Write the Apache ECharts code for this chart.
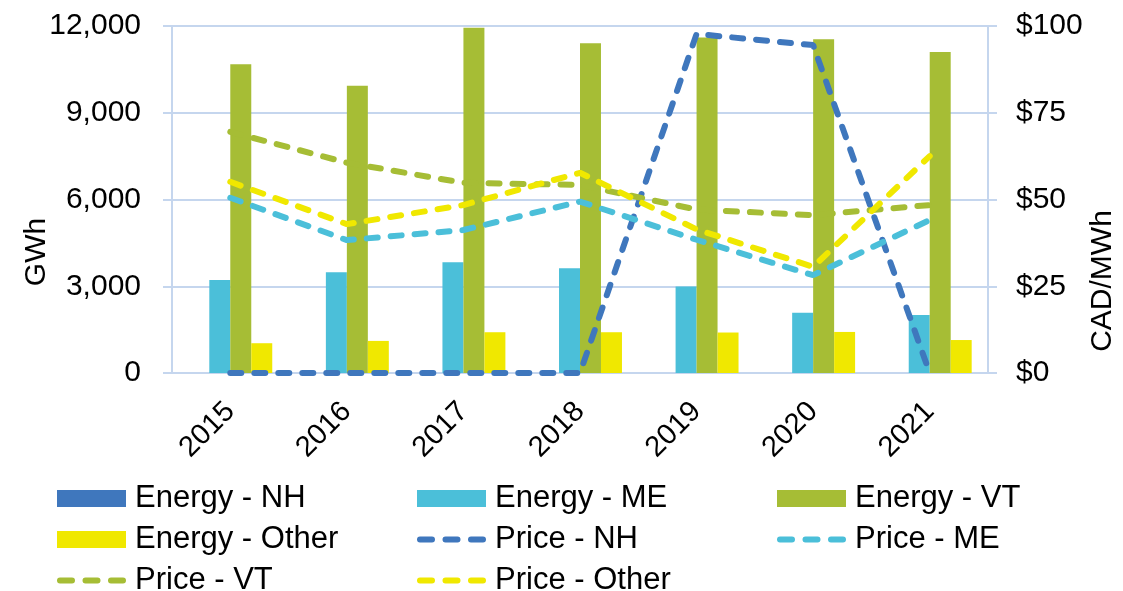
<!DOCTYPE html>
<html>
<head>
<meta charset="utf-8">
<script src="https://cdn.jsdelivr.net/npm/echarts@6/dist/echarts.min.js"></script>
<style>
  html, body { margin: 0; padding: 0; background: #fff; }
  #chart { width: 1123px; height: 591px; }
</style>
</head>
<body>
<div id="chart"></div>
<script>
// chart data
var years = ['2015', '2016', '2017', '2018', '2019', '2020', '2021']
var energyNH = [0, 0, 0, 0, 0, 0, 0]
var energyME = [3220, 3480, 3830, 3620, 2990, 2080, 2010]
var energyVT = [10680, 9930, 11940, 11400, 11600, 11540, 11100]
var energyOther = [1030, 1110, 1410, 1410, 1400, 1420, 1140]
var priceNH = [0, 0, 0, 0, 97.7, 94.5, 0]
var priceME = [50.5, 38.3, 41.2, 49.4, 38.4, 28.2, 44.1]
var priceVT = [69.5, 60.6, 54.8, 54.2, 47.1, 45.5, 48.4]
var priceOther = [55.1, 42.9, 48.4, 57.7, 41.4, 30.6, 62.5]

var FONT = 'Liberation Sans, Arial, sans-serif'
var gridColor = '#C5D6EE'
var colors = {
  NH: '#3F77BD',
  ME: '#4BBFD9',
  VT: '#A6BD35',
  Other: '#F0E800'
}

// three rounded dashes for the line legend icons (moveTo points fix the box height)
var dashIcon = 'path://M0,0M69,17' +
  'M3,5.5h12a3,3 0 0 1 0,6h-12a3,3 0 0 1 0,-6z' +
  'M28.5,5.5h12a3,3 0 0 1 0,6h-12a3,3 0 0 1 0,-6z' +
  'M54,5.5h12a3,3 0 0 1 0,6h-12a3,3 0 0 1 0,-6z'

function barSeries(name, data, color) {
  return {
    name: name,
    type: 'bar',
    data: data,
    barGap: '0%',
    barCategoryGap: '28%',
    itemStyle: { color: color },
    animation: false
  }
}

function priceSeries(name, data, color) {
  return {
    name: name,
    type: 'line',
    yAxisIndex: 1,
    data: data,
    symbol: 'none',
    itemStyle: { color: color },
    lineStyle: { color: color, width: 6, type: [11, 13], cap: 'round' },
    animation: false
  }
}

// one horizontal legend per row; fixed text width keeps the three columns aligned
function legendRow(top, names) {
  return {
    orient: 'horizontal',
    left: 57,
    top: top,
    padding: 0,
    itemWidth: 69,
    itemHeight: 17,
    itemGap: 20,
    textStyle: { fontFamily: FONT, fontSize: 31, color: '#000', lineHeight: 26, width: 262, padding: [0, 0, 0, 4] },
    data: names.map(function (n) {
      return { name: n, icon: n.indexOf('Price') === 0 ? dashIcon : 'rect' }
    })
  }
}

var chart = echarts.init(document.getElementById('chart'))
chart.setOption({
  backgroundColor: '#fff',
  grid: { left: 172, right: 135, top: 26, bottom: 218 },
  legend: [
    legendRow(483, ['Energy - NH', 'Energy - ME', 'Energy - VT']),
    legendRow(524, ['Energy - Other', 'Price - NH', 'Price - ME']),
    legendRow(565, ['Price - VT', 'Price - Other'])
  ],
  xAxis: {
    type: 'category',
    data: years,
    axisLine: { lineStyle: { color: gridColor, width: 2 } },
    axisTick: { show: false },
    axisLabel: { rotate: 45, fontFamily: FONT, fontSize: 29, color: '#000', margin: 34 }
  },
  yAxis: [
    {
      type: 'value',
      min: 0,
      max: 12000,
      interval: 3000,
      axisLine: { show: true, lineStyle: { color: gridColor, width: 2 } },
      axisTick: { show: true, length: 9, lineStyle: { color: gridColor, width: 2 } },
      splitLine: { lineStyle: { color: gridColor, width: 2 } },
      axisLabel: {
        fontFamily: FONT, fontSize: 30, color: '#000', margin: 31,
        formatter: function (v) { return String(v).replace(/\B(?=(\d{3})+(?!\d))/g, ',') }
      }
    },
    {
      type: 'value',
      min: 0,
      max: 100,
      interval: 25,
      axisLine: { show: true, lineStyle: { color: gridColor, width: 2 } },
      axisTick: { show: true, length: 9, lineStyle: { color: gridColor, width: 2 } },
      splitLine: { show: false },
      axisLabel: {
        fontFamily: FONT, fontSize: 30, color: '#000', margin: 28,
        formatter: function (v) { return '$' + v }
      }
    }
  ],
  graphic: [
    {
      type: 'text', x: 37, y: 252, rotation: Math.PI / 2,
      style: { text: 'GWh', font: '30px ' + FONT, fill: '#000', align: 'center', verticalAlign: 'middle' }
    },
    {
      type: 'text', x: 1103, y: 281, rotation: Math.PI / 2,
      style: { text: 'CAD/MWh', font: '30px ' + FONT, fill: '#000', align: 'center', verticalAlign: 'middle' }
    }
  ],
  series: [
    barSeries('Energy - NH', energyNH, colors.NH),
    barSeries('Energy - ME', energyME, colors.ME),
    barSeries('Energy - VT', energyVT, colors.VT),
    barSeries('Energy - Other', energyOther, colors.Other),
    priceSeries('Price - NH', priceNH, colors.NH),
    priceSeries('Price - ME', priceME, colors.ME),
    priceSeries('Price - VT', priceVT, colors.VT),
    priceSeries('Price - Other', priceOther, colors.Other)
  ]
})
</script>
</body>
</html>
